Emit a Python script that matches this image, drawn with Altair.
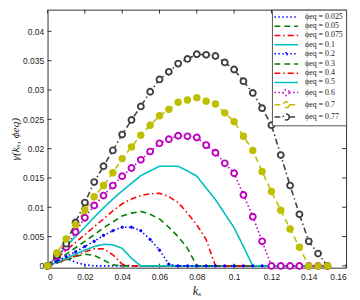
import altair as alt
import pandas as pd

# ---------------- data ----------------
kx = [0.0, 0.005, 0.01, 0.015, 0.02, 0.025, 0.03, 0.035, 0.04, 0.045,
      0.05, 0.055, 0.06, 0.065, 0.07, 0.075, 0.08, 0.085, 0.09, 0.095,
      0.1, 0.105, 0.11, 0.115, 0.12, 0.125, 0.13, 0.135, 0.14, 0.145, 0.15]

g_0025 = [0, 0.0009, 0.0013, 0.0006, 0.0002, 0, 0, 0, 0, 0,
          0, 0, 0, 0, 0, 0, 0, 0, 0, 0,
          0, 0, 0, 0, 0, 0, 0, 0, 0, 0, 0]
g_005 = [0, 0.0005, 0.0010, 0.0016, 0.0020, 0.0018, 0.0010, 0.0002, 0, 0,
         0, 0, 0, 0, 0, 0, 0, 0, 0, 0,
         0, 0, 0, 0, 0, 0, 0, 0, 0, 0, 0]
g_0075 = [0, 0.0005, 0.0011, 0.0017, 0.0024, 0.0029, 0.0029, 0.0019, 0.0003, 0,
          0, 0, 0, 0, 0, 0, 0, 0, 0, 0,
          0, 0, 0, 0, 0, 0, 0, 0, 0, 0, 0]
g_01 = [0, 0.0006, 0.0013, 0.0020, 0.0027, 0.0033, 0.0037, 0.0036, 0.0030, 0.0013,
        0, 0, 0, 0, 0, 0, 0, 0, 0, 0,
        0, 0, 0, 0, 0, 0, 0, 0, 0, 0, 0]
g_02 = [0, 0.0008, 0.0016, 0.0024, 0.0033, 0.0042, 0.0052, 0.0060, 0.0066, 0.0066,
        0.0060, 0.0045, 0.0027, 0.0003, 0, 0, 0, 0, 0, 0,
        0, 0, 0, 0, 0, 0, 0, 0, 0, 0, 0]
g_03 = [0, 0.0010, 0.0020, 0.0031, 0.0042, 0.0053, 0.0065, 0.0075, 0.0085, 0.0090,
        0.0093, 0.0088, 0.0080, 0.0066, 0.0050, 0.0030, 0, 0, 0, 0,
        0, 0, 0, 0, 0, 0, 0, 0, 0, 0, 0]
g_04 = [0, 0.0013, 0.0027, 0.0040, 0.0053, 0.0067, 0.0080, 0.0094, 0.0106, 0.0114,
        0.0120, 0.0123, 0.0124, 0.0118, 0.0108, 0.0090, 0.0070, 0.0045, 0, 0,
        0, 0, 0, 0, 0, 0, 0, 0, 0, 0, 0]
g_05 = [0, 0.0016, 0.0033, 0.0050, 0.0066, 0.0083, 0.0099, 0.0114, 0.0128, 0.0141,
        0.0154, 0.0162, 0.0170, 0.0170, 0.0170, 0.0162, 0.0153, 0.0133, 0.0113, 0.0089,
        0.0065, 0.0033, 0, 0, 0, 0, 0, 0, 0, 0, 0]
g_06 = [0, 0.0016, 0.0032, 0.0058, 0.0082, 0.0103, 0.0120, 0.0137, 0.0153, 0.0167,
        0.0181, 0.0195, 0.0209, 0.0216, 0.0222, 0.0221, 0.0219, 0.0206, 0.0193, 0.0175,
        0.0158, 0.0121, 0.0084, 0.0042, 0, 0, 0, 0, 0, 0, 0]
g_07 = [0, 0.0022, 0.0046, 0.0070, 0.0095, 0.0118, 0.0137, 0.0159, 0.0183, 0.0203,
        0.0223, 0.0240, 0.0256, 0.0267, 0.0279, 0.0283, 0.0287, 0.0281, 0.0276, 0.0261,
        0.0246, 0.0221, 0.0197, 0.0161, 0.0127, 0.0095, 0.0063, 0.0032, 0, 0, 0]
g_077 = [0, 0.0018, 0.0038, 0.0074, 0.0108, 0.0143, 0.0170, 0.0197, 0.0224, 0.0249,
         0.0272, 0.0297, 0.0318, 0.0331, 0.0345, 0.0353, 0.0361, 0.0360, 0.0358, 0.0347,
         0.0335, 0.0315, 0.0295, 0.0269, 0.0240, 0.0189, 0.0137, 0.0088, 0.0042, 0.0021, 0]

labels = ["ϕeq = 0.025", "ϕeq = 0.05", "ϕeq = 0.075", "ϕeq = 0.1", "ϕeq = 0.2",
          "ϕeq = 0.3", "ϕeq = 0.4", "ϕeq = 0.5", "ϕeq = 0.6", "ϕeq = 0.7", "ϕeq = 0.77"]
series = [g_0025, g_005, g_0075, g_01, g_02, g_03, g_04, g_05, g_06, g_07, g_077]

x_ticks = [0, 0.02, 0.04, 0.06, 0.08, 0.1, 0.12, 0.14, 0.16]
y_ticks = [0, 0.005, 0.01, 0.015, 0.02, 0.025, 0.03, 0.035, 0.04]

# ---------------- styles ----------------
colors = ["#0000ff", "#008000", "#ff0000", "#00bfbf", "#0000ff", "#008000",
          "#ff0000", "#00bfbf", "#bf00bf", "#bfbf00", "#404040"]
DOT, DASH, DASHDOT, SOLID = [1.5, 2.5], [6, 4], [6, 3, 1.5, 3], [1, 0]
dashes = [DOT, DASH, DASHDOT, SOLID, DOT, DASH, DASHDOT, SOLID, DOT, DASH, DASHDOT]
markers = ["none", "none", "none", "none", "dot", "none", "none", "none",
           "open", "filled", "open"]
LINE = "M-3,0L3,0"
RING = "M-3,0L-0.75,0M0.75,0L3,0M0.75,0A0.75,0.75,0,1,1,-0.75,0A0.75,0.75,0,1,1,0.75,0Z"
DOTP = "M-3,0L3,0M0.3,0A0.3,0.3,0,1,1,-0.3,0A0.3,0.3,0,1,1,0.3,0Z"
shapes = [LINE, LINE, LINE, LINE, DOTP, LINE, LINE, LINE, RING, RING, RING]

rows = []
for lab, vals, mk in zip(labels, series, markers):
    for x, v in zip(kx, vals):
        rows.append({"kx": x, "gamma": v, "series": lab, "marker": mk})
df = pd.DataFrame(rows)
xt_df = pd.DataFrame({"kx": x_ticks})
yt_df = pd.DataFrame({"gamma": y_ticks})

W, H = 302, 261
XDOM = [0, 0.16]
YDOM = [-0.0003, 0.0437]
AX = "#333333"
TICKFONT = "Liberation Sans"

main_x = alt.Axis(values=x_ticks, format="~g", tickSize=0, domain=False, grid=False,
                  labelPadding=5, labelFont=TICKFONT, labelFontSize=8.5, labelColor="#222",
                  title="kₓ", titleFont="Liberation Serif", titleFontStyle="italic",
                  titleFontWeight="normal", titleFontSize=12.5, titleColor="#222", titlePadding=4)
main_y = alt.Axis(values=y_ticks, format="~g", tickSize=0, domain=False, grid=False,
                  labelPadding=4, labelFont=TICKFONT, labelFontSize=8.5, labelColor="#222",
                  title="γ(kₓ, ϕeq)", titleFont="Liberation Serif", titleFontStyle="italic",
                  titleFontWeight="normal", titleFontSize=11.5, titleColor="#222", titlePadding=2)

XS = alt.Scale(domain=XDOM, nice=False, zero=False)
YS = alt.Scale(domain=YDOM, nice=False, zero=False)
X = alt.X("kx:Q", scale=XS, axis=main_x)
Y = alt.Y("gamma:Q", scale=YS, axis=main_y)

LEG = alt.Legend(title=None, orient="top-right", offset=0,
                 strokeColor="#555", fillColor="white", padding=2.5,
                 rowPadding=0.3, symbolSize=64, symbolStrokeWidth=1.5,
                 symbolOffset=7, labelOffset=14, symbolOpacity=1,
                 symbolFillColor="white",
                 labelFont="Liberation Serif", labelFontSize=8, labelColor="#222")

color = alt.Color("series:N", scale=alt.Scale(domain=labels, range=colors), legend=LEG)
dash = alt.StrokeDash("series:N", scale=alt.Scale(domain=labels, range=dashes), legend=LEG)
shape = alt.Shape("series:N", scale=alt.Scale(domain=labels, range=shapes), legend=LEG)

base = alt.Chart(df)

legend_layer = base.mark_point(filled=False, opacity=0).encode(X, Y, color, dash, shape)

lines = base.mark_line(strokeWidth=1.6).encode(X, Y, color, dash)

dot_pts = base.transform_filter(alt.datum.marker == "dot").mark_point(
    filled=False, fill="#0000ff", size=7, strokeWidth=0.5, opacity=1).encode(X, Y, color)

open_pts = base.transform_filter(alt.datum.marker == "open").mark_point(
    filled=False, fill="white", size=36, strokeWidth=1.9, opacity=1,
    shape="circle").encode(X, Y, color)

filled_pts = base.transform_filter(alt.datum.marker == "filled").mark_point(
    filled=False, fill="#bfbf00", size=36, strokeWidth=1.5, opacity=1,
    shape="circle").encode(X, Y, color)

# inward tick marks on all four sides of the box (MATLAB style)
TL = 4
xt_bottom = alt.Chart(xt_df).mark_rule(color=AX, strokeWidth=1).encode(
    X, y=alt.value(H), y2=alt.value(H - TL))
xt_top = alt.Chart(xt_df).mark_rule(color=AX, strokeWidth=1).encode(
    X, y=alt.value(0), y2=alt.value(TL))
yt_left = alt.Chart(yt_df).mark_rule(color=AX, strokeWidth=1).encode(
    Y, x=alt.value(0), x2=alt.value(TL))
yt_right = alt.Chart(yt_df).mark_rule(color=AX, strokeWidth=1).encode(
    Y, x=alt.value(W), x2=alt.value(W - TL))

chart = alt.layer(
    legend_layer, xt_bottom, xt_top, yt_left, yt_right, lines, dot_pts,
    open_pts, filled_pts
).properties(
    width=W, height=H,
    autosize=alt.AutoSizeParams(type="none"),
    padding={"left": 40, "top": 0, "right": 6, "bottom": 30},
).configure_view(stroke=AX, strokeWidth=1)

chart.save("out.html", embed_options={"renderer": "svg", "actions": False})
